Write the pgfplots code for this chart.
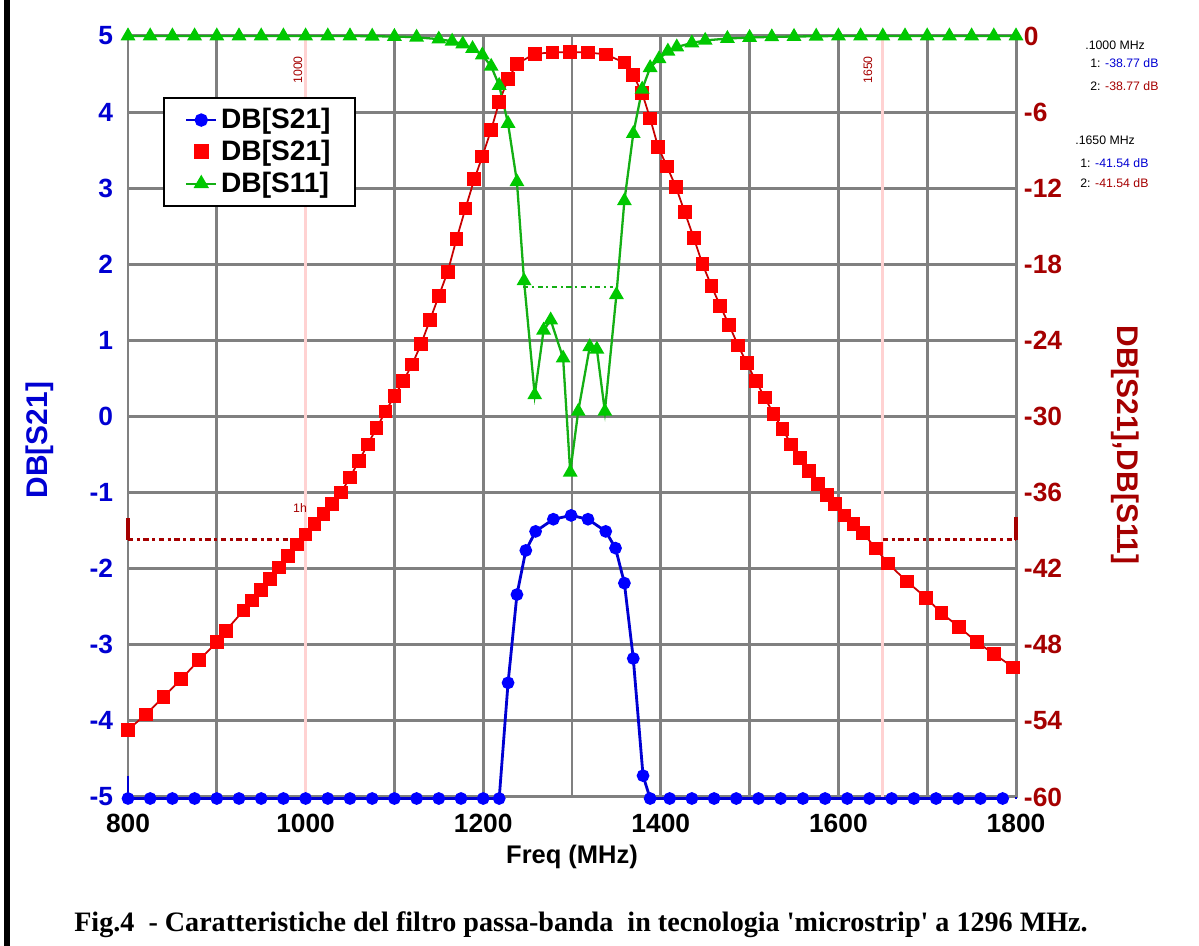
\documentclass[border=0pt]{standalone}
\usepackage{fontspec}
\setmainfont{Liberation Sans}
\newfontfamily\capfont{Liberation Serif}
\usepackage{pgfplots}
\pgfplotsset{compat=1.18}

\definecolor{gridgray}{RGB}{128,128,128}
\definecolor{dkred}{RGB}{165,0,0}
\definecolor{lnred}{RGB}{200,0,0}
\definecolor{mkgreen}{RGB}{0,200,0}
\definecolor{lngreen}{RGB}{20,175,20}
\definecolor{dkblue}{RGB}{0,0,210}
\definecolor{pinkline}{RGB}{255,210,210}

\newcommand{\lblfont}{\bfseries\fontsize{15}{15}\selectfont}
\newcommand{\axfont}{\bfseries\fontsize{17}{17}\selectfont}

\begin{document}
\begin{tikzpicture}
\useasboundingbox (0,0) rectangle (23.98cm,18.92cm);
\draw[line width=0.12cm] (0.13cm,0) -- (0.13cm,18.92cm);

% left axis: DB[S21] (blue)
\begin{axis}[
    at={(2.56cm,2.98cm)}, anchor=south west,
    scale only axis, width=17.76cm, height=15.22cm,
    xmin=800, xmax=1800, ymin=-5, ymax=5,
    xtick={800,1000,...,1800}, minor xtick={900,1100,...,1700},
    ytick={-5,-4,...,5},
    major tick length=0pt, minor tick length=0pt,
    grid=both,
    major grid style={gridgray, line width=1.7pt},
    minor grid style={gridgray, line width=1.7pt},
    axis line style={gridgray, line width=1.7pt},
    /pgf/number format/assume math mode=true,
    /pgf/number format/1000 sep={},
    ticklabel style={font=\lblfont},
    xticklabel style={yshift=-6pt},
    yticklabel style={text=dkblue, xshift=-5pt},
    xlabel={Freq (MHz)},
    xlabel style={font=\bfseries\fontsize{14.5}{14.5}\selectfont, at={(axis description cs:0.5,-0.079)}, anchor=center},
    ylabel={DB[S21]},
    ylabel style={font=\axfont, text=dkblue, at={(axis description cs:-0.099,0.469)}, anchor=center},
    clip=false
]
\addplot[pinkline, line width=1.8pt] coordinates {(1000,-5) (1000,5)};
\addplot[pinkline, line width=1.8pt] coordinates {(1650,-5) (1650,5)};
\addplot[dkblue, line width=1.6pt] coordinates {(800,-4.72) (800,-5.02)};
\addplot[dkblue, line width=1.6pt] coordinates {(1800,-4.70) (1800,-5.02)};
\addplot[dkblue, line width=1.6pt, mark=*, mark size=2.8pt, mark options={fill=blue, draw=blue}] coordinates {
(800,-5.02) (825,-5.02) (850,-5.02) (875,-5.02) (900,-5.02) (925,-5.02) (950,-5.02)
(975,-5.02) (1000,-5.02) (1025,-5.02) (1050,-5.02) (1075,-5.02) (1100,-5.02)
(1125,-5.02) (1150,-5.02) (1175,-5.02) (1200,-5.02) (1218,-5.02)
(1228,-3.50) (1238,-2.34) (1248,-1.76) (1259,-1.51) (1279,-1.35) (1299,-1.30)
(1318,-1.35) (1338,-1.51) (1349,-1.73) (1359,-2.19) (1369,-3.18) (1380,-4.72)
(1388,-5.02) (1410,-5.02) (1435,-5.02) (1460,-5.02) (1485,-5.02) (1510,-5.02)
(1535,-5.02) (1560,-5.02) (1585,-5.02) (1610,-5.02) (1635,-5.02) (1660,-5.02)
(1685,-5.02) (1710,-5.02) (1735,-5.02) (1760,-5.02) (1785,-5.02)
};
\end{axis}

% right axis: DB[S21] (red), DB[S11] (green)
\begin{axis}[
    at={(2.56cm,2.98cm)}, anchor=south west,
    scale only axis, width=17.76cm, height=15.22cm,
    xmin=800, xmax=1800, ymin=-60, ymax=0,
    axis x line=none, axis y line*=right,
    ytick={-60,-54,...,0},
    major tick length=0pt,
    axis line style={gridgray, line width=1.7pt},
    /pgf/number format/assume math mode=true,
    ticklabel style={font=\lblfont},
    yticklabel style={text=dkred, xshift=1pt},
    ylabel={DB[S21],DB[S11]},
    ylabel style={font=\axfont, text=dkred, at={(axis description cs:1.1228,0.4625)}, anchor=center, rotate=180},
    legend style={at={(0.039,0.92)}, anchor=north west, draw=black, line width=1.3pt,
        font=\bfseries\fontsize{16}{16}\selectfont, row sep=1pt, inner xsep=12pt, inner ysep=4pt, fill=white},
    legend cell align=left,
    clip=false
]
\addlegendimage{dkblue, line width=1.6pt, mark=*, mark size=3pt, mark options={fill=blue, draw=blue}}
\addlegendentry{DB[S21]}
\addlegendimage{only marks, mark=square*, mark size=3.6pt, mark options={fill=red, draw=red}}
\addlegendentry{DB[S21]}
\addlegendimage{lngreen, line width=1.3pt, mark=triangle*, mark size=3.8pt, mark options={fill=mkgreen, draw=mkgreen}}
\addlegendentry{DB[S11]}

% marker readout lines
\addplot[dkred, line width=1.8pt, forget plot] coordinates {(800,-38.0) (800,-39.7)};
\addplot[dkred, line width=1.8pt, dash dot, forget plot] coordinates {(800,-39.7) (1000,-39.7)};
\addplot[dkred, line width=1.8pt, dash dot, forget plot] coordinates {(1650,-39.7) (1800,-39.7)};
\addplot[dkred, line width=1.8pt, forget plot] coordinates {(1800,-39.7) (1800,-37.9)};

% red DB[S21]
\addplot[lnred, line width=1pt, mark=square*, mark size=3.4pt, mark options={fill=red, draw=red}, forget plot] coordinates {
(800,-54.7) (820,-53.5) (840,-52.1) (860,-50.7) (880,-49.2) (900,-47.8) (910,-46.9)
(930,-45.3) (940,-44.5) (950,-43.7) (960,-42.8) (970,-41.9) (980,-41.0) (990,-40.1)
(1000,-39.3) (1010,-38.5) (1020,-37.7) (1030,-36.9) (1040,-36.0) (1050,-34.8)
(1060,-33.5) (1070,-32.2) (1080,-30.9) (1090,-29.6) (1100,-28.4) (1110,-27.2)
(1120,-25.9) (1130,-24.3) (1140,-22.4) (1150,-20.5) (1160,-18.6) (1170,-16.0)
(1180,-13.6) (1190,-11.3) (1199,-9.5) (1209,-7.4) (1218,-5.2) (1228,-3.4)
(1238,-2.2) (1258,-1.4) (1278,-1.3) (1298,-1.27) (1318,-1.3) (1338,-1.45)
(1359,-2.1) (1369,-3.1) (1379,-4.5) (1388,-6.5) (1397,-8.75) (1407,-10.3)
(1417,-11.9) (1427,-13.9) (1437,-15.9) (1447,-18.0) (1457,-19.7) (1467,-21.3)
(1477,-22.8) (1487,-24.4) (1497,-25.8) (1507,-27.2) (1517,-28.5) (1527,-29.8)
(1537,-31.0) (1547,-32.2) (1557,-33.3) (1567,-34.3) (1577,-35.3) (1587,-36.2)
(1596,-36.9) (1607,-37.8) (1617,-38.5) (1628,-39.2) (1642,-40.4) (1656,-41.6)
(1677,-43.0) (1699,-44.3) (1716,-45.5) (1736,-46.6) (1756,-47.8) (1775,-48.7)
(1797,-49.8)
};

% green DB[S11]
\addplot[lngreen, line width=1.2pt, dash dot, forget plot] coordinates {(1245,-19.8) (1346,-19.8)};
\addplot[lngreen, line width=1.3pt, mark=triangle*, mark size=3.6pt, mark options={fill=mkgreen, draw=mkgreen}, forget plot] coordinates {
(800,0) (825,0) (850,0) (875,0) (900,0) (925,0) (950,0) (975,0) (1000,0) (1025,0)
(1050,0) (1075,-0.02) (1100,-0.04) (1125,-0.1) (1150,-0.25) (1165,-0.42)
(1177,-0.63) (1188,-1.0) (1199,-1.5) (1209,-2.4) (1218,-3.9) (1228,-6.9)
(1238,-11.5) (1246,-19.3) (1258,-28.3) (1268,-23.2) (1276,-22.4) (1290,-25.4)
(1298,-34.4) (1307,-29.6) (1320,-24.5) (1328,-24.7) (1337,-29.6) (1350,-20.4)
(1359,-13.0) (1369,-7.7) (1379,-4.2) (1388,-2.5) (1398,-1.8) (1408,-1.2)
(1418,-0.87) (1435,-0.55) (1450,-0.35) (1475,-0.2) (1500,-0.12) (1525,-0.07)
(1550,-0.04) (1575,-0.02) (1600,0) (1625,0) (1650,0) (1675,0) (1700,0) (1725,0)
(1750,0) (1775,0) (1800,0)
};
\end{axis}

% marker labels and readouts
\node[rotate=90, text=dkred, font=\fontsize{7}{7}\selectfont] at (5.96cm,17.52cm) {1000};
\node[rotate=90, text=dkred, font=\fontsize{7}{7}\selectfont] at (17.36cm,17.52cm) {1650};
\node[text=dkred, font=\fontsize{7}{7}\selectfont] at (6.0cm,8.76cm) {1h};
\begin{scope}[font=\fontsize{7}{8}\selectfont, anchor=west, inner sep=0pt]
\node[anchor=west] at (21.7cm,18.02cm) {.1000 MHz};
\node[anchor=west] at (21.8cm,17.66cm) {1: \textcolor{dkblue}{-38.77 dB}};
\node[anchor=west] at (21.8cm,17.20cm) {2: \textcolor{dkred}{-38.77 dB}};
\node[anchor=west] at (21.5cm,16.12cm) {.1650 MHz};
\node[anchor=west] at (21.6cm,15.66cm) {1: \textcolor{dkblue}{-41.54 dB}};
\node[anchor=west] at (21.6cm,15.26cm) {2: \textcolor{dkred}{-41.54 dB}};
\end{scope}

\node[font=\capfont\bfseries\fontsize{16}{16}\selectfont] at (11.62cm,0.42cm)
  {Fig.4 \ - Caratteristiche del filtro passa-banda \ in tecnologia \textquotesingle microstrip\textquotesingle\ a 1296 MHz.};
\end{tikzpicture}
\end{document}
